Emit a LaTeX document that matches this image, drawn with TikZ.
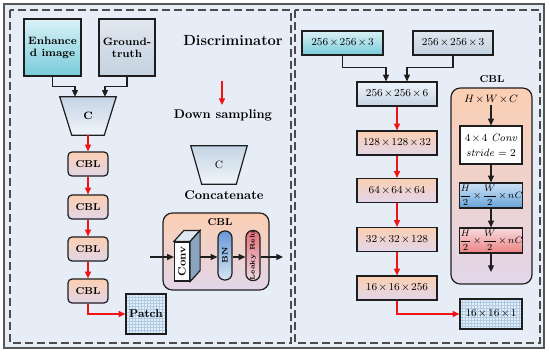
\documentclass[tikz,border=0pt]{standalone}
\usepackage{amsmath}
\usetikzlibrary{arrows.meta,calc}
\newcommand{\tx}{\mkern2mu{\times}\mkern2mu}
\definecolor{bgc}{RGB}{231,237,246}
\definecolor{enhtop}{RGB}{218,241,246}
\definecolor{enhbot}{RGB}{120,204,218}
\definecolor{gttop}{RGB}{224,231,240}
\definecolor{gtbot}{RGB}{196,209,223}
\definecolor{traptop}{RGB}{196,212,228}
\definecolor{trapbot}{RGB}{240,245,250}
\definecolor{cbltop}{RGB}{251,207,178}
\definecolor{cblbot}{RGB}{226,214,234}
\definecolor{bluetop}{RGB}{205,226,245}
\definecolor{bluebot}{RGB}{104,162,216}
\definecolor{redtop}{RGB}{246,220,222}
\definecolor{redbot}{RGB}{236,128,130}
\definecolor{bntop}{RGB}{104,152,214}
\definecolor{bnbot}{RGB}{214,228,243}
\definecolor{lrtop}{RGB}{228,112,122}
\definecolor{lrbot}{RGB}{238,218,228}
\definecolor{gridbg}{RGB}{226,238,248}
\definecolor{gridln}{RGB}{176,202,228}
\definecolor{sidec}{RGB}{138,164,192}
\definecolor{topc}{RGB}{222,232,242}
\definecolor{linec}{RGB}{30,30,30}
\definecolor{redarr}{RGB}{240,20,20}
\begin{document}
\begin{tikzpicture}[x=0.75pt,y=-0.75pt,
  boxline/.style={draw=linec,line width=0.9pt},
  panel/.style={draw=linec!80,line width=0.9pt,dash pattern=on 6pt off 3pt},
  blk/.style={draw=linec,line width=0.9pt,-{Triangle[length=5pt,width=4.5pt]}},
  rd/.style={draw=redarr,line width=1pt,-{Triangle[length=5pt,width=4.5pt]}},
  inbox/.style={boxline,rectangle,inner sep=1pt,align=center,font=\fontsize{8}{9}\selectfont\bfseries},
  cblbox/.style={boxline,rectangle,rounded corners=3pt,minimum width=30pt,minimum height=18pt,inner sep=0pt,top color=cbltop,bottom color=cblbot,font=\fontsize{7.5}{9}\selectfont\bfseries},
  rbox/.style={boxline,rectangle,minimum width=60pt,minimum height=18pt,inner sep=0pt,font=\fontsize{8}{9}\selectfont},
  gridded/.style={boxline,rectangle,inner sep=0pt,fill=gridbg,
    path picture={\draw[gridln,line width=0.3pt,step=2.25pt] (path picture bounding box.south west) grid (path picture bounding box.north east);}},
  lbl/.style={inner sep=1pt,font=\fontsize{9.5}{11}\selectfont\bfseries},
]
\useasboundingbox (0,0) rectangle (550,353);
\fill[white] (0,0) rectangle (550,353);
\draw[draw=linec!75,line width=1pt,fill=bgc] (4,4) rectangle (544,348);
\draw[panel] (10,10) rectangle (291,343);
\draw[panel] (295,10) rectangle (540,343);

% ---------------- left panel ----------------
\node[inbox,minimum width=42.75pt,minimum height=42.75pt,top color=enhtop,bottom color=enhbot] (enh) at (52.5,47.5) {Enhance\\d image};
\node[inbox,minimum width=42pt,minimum height=42.75pt,top color=gttop,bottom color=gtbot] (gt) at (127,47.5) {Ground-\\truth};

\node[minimum width=42pt,minimum height=28.5pt,inner sep=0pt] (cat) at (88,116) {};
\draw[boxline,top color=traptop,bottom color=trapbot] (cat.north west) -- (cat.north east) -- ($(cat.south east)+(-12,0)$) -- ($(cat.south west)+(12,0)$) -- cycle;
\node[font=\fontsize{8}{9}\selectfont\bfseries] at (cat.center) {C};

\draw[blk] (enh.south) -- ++(0,10) -| ($(cat.north)+(-13,0)$);
\draw[blk] (gt.south) -- ++(0,10) -| ($(cat.north)+(17,0)$);

\node[cblbox] (c1) at (88,164) {CBL};
\node[cblbox] (c2) at (88,207) {CBL};
\node[cblbox] (c3) at (88,249) {CBL};
\node[cblbox] (c4) at (88,291) {CBL};
\node[gridded,minimum width=30pt,minimum height=30pt,font=\fontsize{8.5}{10}\selectfont\bfseries] (patch) at (146,314) {Patch};

\draw[rd] (cat.south) -- (c1.north);
\draw[rd] (c1.south) -- (c2.north);
\draw[rd] (c2.south) -- (c3.north);
\draw[rd] (c3.south) -- (c4.north);
\draw[rd] (c4.south) |- (patch.west);

% legend
\node[font=\fontsize{11}{13}\selectfont\bfseries,inner sep=0pt] (disc) at (233,41) {Discriminator};
\coordinate (lga) at (222,81);
\coordinate (lgb) at (222,105);
\draw[rd] (lga) -- (lgb);
\node[lbl] (down) at (223,115) {Down sampling};
\node[minimum width=42pt,minimum height=28.5pt,inner sep=0pt] (lcat) at (219,165) {};
\draw[boxline,top color=traptop,bottom color=trapbot] (lcat.north west) -- (lcat.north east) -- ($(lcat.south east)+(-11,0)$) -- ($(lcat.south west)+(11,0)$) -- cycle;
\node[font=\fontsize{8}{9}\selectfont] at (lcat.center) {C};
\node[lbl] (conc) at (224,195) {Concatenate};

% CBL detail
\node[boxline,rectangle,rounded corners=7pt,minimum width=79.5pt,minimum height=57.75pt,top color=cbltop,bottom color=cblbot] (cblbig) at (216,251.5) {};
\node[font=\fontsize{7.5}{9}\selectfont\bfseries,inner sep=0pt] (cblt) at (220,222) {CBL};
\node[boxline,rectangle,fill=white,minimum width=11.25pt,minimum height=29.25pt,inner sep=0pt] (conv) at (182,261.5) {\rotatebox{90}{\fontsize{8}{9}\selectfont\bfseries Conv}};
\draw[boxline,fill=topc] (conv.north west) -- ($(conv.north west)+(10,-11)$) -- ($(conv.north east)+(10,-11)$) -- (conv.north east) -- cycle;
\draw[boxline,fill=sidec] (conv.north east) -- ($(conv.north east)+(10,-11)$) -- ($(conv.south east)+(10,-11)$) -- (conv.south east) -- cycle;
\coordinate (convback) at ($(conv.east)+(10,0)$);
\node[boxline,rectangle,rounded corners=5pt,minimum width=10.5pt,minimum height=36.75pt,inner sep=0pt,top color=bntop,bottom color=bnbot] (bn) at (225,255.5) {\rotatebox{90}{\fontsize{6}{7}\selectfont\bfseries BN}};
\node[boxline,rectangle,rounded corners=5pt,minimum width=10.5pt,minimum height=36.75pt,inner sep=0pt,top color=lrtop,bottom color=lrbot] (lr) at (253,255.5) {\rotatebox{90}{\fontsize{5}{6}\selectfont\bfseries Leaky Relu}};
\coordinate (cin) at (150,257);
\coordinate (cout) at (283,257);
\draw[blk] (cin) -- (cin -| conv.west);
\draw[blk] (cin -| convback) -- (cin -| bn.west);
\draw[blk] (cin -| bn.east) -- (cin -| lr.west);
\draw[blk] (cin -| lr.east) -- (cout);

% ---------------- right panel ----------------
\node[rbox,minimum width=60.75pt,top color=enhtop,bottom color=enhbot] (r1) at (342.5,43) {$256\tx256\tx3$};
\node[rbox,top color=gttop,bottom color=gtbot] (r2) at (453,43) {$256\tx256\tx3$};
\node[rbox,top color=trapbot,bottom color=traptop] (r3) at (397,94) {$256\tx256\tx6$};
\node[rbox,top color=cbltop,bottom color=cblbot] (r4) at (397,143) {$128\tx128\tx32$};
\node[rbox,top color=cbltop,bottom color=cblbot] (r5) at (397,190.5) {$64\tx64\tx64$};
\node[rbox,top color=cbltop,bottom color=cblbot] (r6) at (397,239.5) {$32\tx32\tx128$};
\node[rbox,top color=cbltop,bottom color=cblbot] (r7) at (397,288) {$16\tx16\tx256$};
\node[gridded,minimum width=46.5pt,minimum height=22.5pt,font=\fontsize{8}{9}\selectfont] (r8) at (491,314) {$16\tx16\tx1$};

\draw[blk] (r1.south) -- ++(0,12) -| ($(r3.north)+(-11,0)$);
\draw[blk] (r2.south) -- ++(0,12) -| ($(r3.north)+(10,0)$);
\draw[rd] (r3.south) -- (r4.north);
\draw[rd] (r4.south) -- (r5.north);
\draw[rd] (r5.south) -- (r6.north);
\draw[rd] (r6.south) -- (r7.north);
\draw[rd] (r7.south) |- (r8.west);

\node[font=\fontsize{7.5}{9}\selectfont\bfseries,inner sep=0pt] (rcblt) at (492,79) {CBL};
\node[boxline,rectangle,rounded corners=7pt,minimum width=60.75pt,minimum height=147pt,top color=cbltop,bottom color=cblbot] (rcbl) at (491.5,186) {};
\node[inner sep=1pt,font=\fontsize{8}{9}\selectfont] (hwc) at (491,99) {$H\tx W\tx C$};
\node[boxline,rectangle,fill=white,minimum width=46.5pt,minimum height=28.5pt,inner sep=0pt,align=center,font=\fontsize{8}{10}\selectfont] (rconv) at (491,145) {$4\tx4$ \textit{Conv}\\[1pt] $\mathit{stride}=2$};
\node[boxline,rectangle,minimum width=46.5pt,minimum height=18.75pt,inner sep=0pt,top color=bluetop,bottom color=bluebot,font=\fontsize{7}{8}\selectfont] (rblue) at (491,195.5) {$\dfrac{H}{2}\tx\dfrac{W}{2}\tx nC$};
\node[boxline,rectangle,minimum width=46.5pt,minimum height=18.75pt,inner sep=0pt,top color=redtop,bottom color=redbot,font=\fontsize{7}{8}\selectfont] (rred) at (491,240.5) {$\dfrac{H}{2}\tx\dfrac{W}{2}\tx nC$};
\coordinate (rend) at (491,272);
\draw[blk] (hwc.south) -- (rconv.north);
\draw[blk] (rconv.south) -- (rblue.north);
\draw[blk] (rblue.south) -- (rred.north);
\draw[blk] (rred.south) -- (rend);
\end{tikzpicture}
\end{document}
